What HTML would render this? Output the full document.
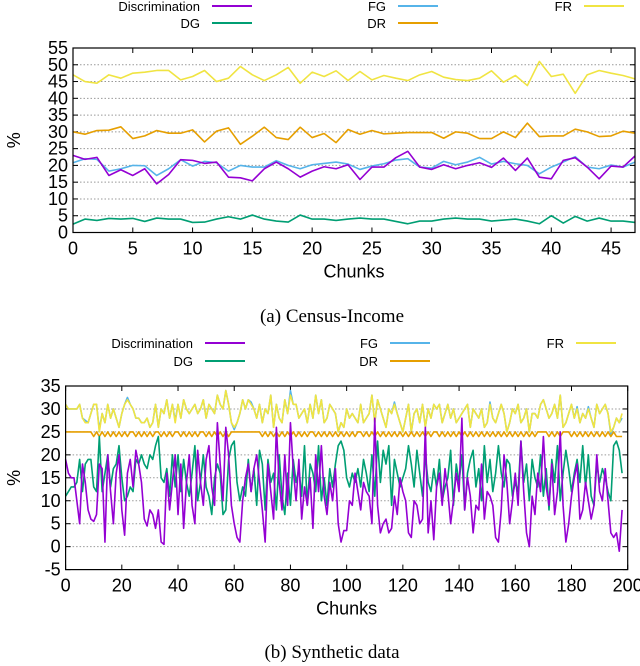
<!DOCTYPE html>
<html><head><meta charset="utf-8"><style>
body{margin:0;background:#fff;}
svg{display:block;font-family:"Liberation Sans",sans-serif;}
</style></head><body>
<svg id="svg" width="640" height="666" xmlns="http://www.w3.org/2000/svg"></svg>
<script>
// ---- Chart A (Census-Income) data ----
const aChunks = 48;
const aDisc = [23,21.8,22.4,17,18.7,17,19,14.5,17.3,21.7,21.5,20.6,21,16.5,16.3,15.4,19,21,19,16.5,18.3,19.6,19,20.2,15.8,19.5,19.5,22.3,24.2,19.5,18.8,20.2,19,20,20.8,19.4,22.2,18.5,22.2,16.5,16,21.5,22.3,19.5,16,19.8,19.5,22.8];
const aDG = [2.5,4,3.6,4.2,4,4.2,3.3,4.3,4,4,3,3.1,4,4.7,4,5.2,4,3.4,3.1,5.2,4,4,3.6,4,4.3,4,4,3.3,2.6,3.4,3.4,4,4.3,4,4,3.4,3.7,4,3.4,2.6,5,2.8,4.8,3.4,4.3,3.4,3.4,3];
const aFG = [20.8,22,21.8,18.3,19,20,19.9,17,19,21.7,19.8,21.2,20.8,18.3,20,19.5,19.5,21.4,20,19,20.2,20.6,21,20.4,18.8,19.8,20.5,21.6,22,19.5,19.2,21.2,20.2,21,22.4,20.4,21.2,20.5,20,17.5,19.5,21,22.6,19.5,19,20.1,19.5,21];
const aDR = [30,29.3,30.4,30.5,31.5,28,28.8,30.4,29.6,29.6,30.6,27,30.2,31.2,26.3,28.7,31.4,28.3,27.7,31.4,28.3,29.5,26.8,30.7,29.3,30.4,29.4,29.6,29.8,29.8,29.8,28.1,30,29.6,28,28,30,28.3,32.6,28.6,28.8,28.8,30.8,30,28.6,28.8,30.2,29.6];
const aFR = [47,45,44.5,47,46,47.5,47.8,48.3,48.3,45.5,46.5,48.3,45,46,49.5,47,45.3,47,49.2,44.5,47.8,46.5,48.2,45.3,48,45.5,46.8,46,45.3,47,48,46.3,45.6,45.3,46,48.2,44.8,46.8,43.8,51,46.5,47.2,41.5,47,48.3,47.5,46.8,45.8];
const aYTicks = [0,5,10,15,20,25,30,35,40,45,50,55];
const aXTicks = [0,5,10,15,20,25,30,35,40,45];

// ---- Chart B (Synthetic) data ----
const bDisc = [19,16,15,15,10,5,18,14,8,6,5.5,7,18,17,1,20,12,5,16,20,
8,2.5,16,19,13,21,18,14,6,4.5,8,7,4,8,1,0.5,16,8,14,20,
7,18,4,14,20,9,5,21,14,9,19,22,13,9,27,18,10,26,20,9,
5,2,1,10,15,18,12,17,20,14,8,1,18,12,6,26,14,8,20,9,
27,17,10,19,6,13,9,15,4,20,12,22,11,7,14,10,17,5,1,3.5,
3.5,10,9,16,12,8,14,12,11,5,28,9,3,5,6,3,4,11,7,15,
12,10,3,2,10,9,5,6,26,3,10,1.5,13,16,9,17,12,5,10,16,
12,28,8,15,11,3,9,8,18,6,12,11,9,2,1,8,20,14,5,10,
16,9,23,12,3,0,11,7,16,12,24,13,9,18,7,12,25,9,1,5,
11,15,18,6,8,14,10,6,9,20,12,10,17,10,3,2,3,-1,8];
const bDG = [11,12,13,13,14,19,12,18,19,19,13,12,24,12,16,20,13,17,18,22,
15,10,11,13,12,19,18,20,18,17,20,19,22,24,15,14,17,11,20,13,
20,12,19,14,11,16,22,10,14,20,13,11,7,15,18,16,7,8,19,22,
23,14,10,13,11,19,12,17,9,21,18,8,19,14,16,8,20,11,7,16,
9,19,14,17,11,22,9,18,16,12,22,10,15,9,17,13,18,22,23,21,
15,13,16,14,17,13,19,16,12,20,11,23,14,21,18,22,9,19,16,13,
15,17,22,18,13,21,16,11,20,14,12,17,13,19,10,13,15,21,9,18,
14,20,8,16,19,21,13,17,10,22,14,19,12,16,22,16,13,19,18,11,
14,12,23,14,18,10,19,15,13,20,11,17,8,19,14,22,10,16,21,17,
12,16,19,14,22,13,20,11,9,18,14,17,15,12,10,22,23,21,16];
const bFR = [31,30,30,30,30,31,28,27,27,29,31,31,25,29,27,31,28,30,28,26,
29,31,32,31,30,28,28,27,27,28,26,27,31,26,30,29,32,28,31,27,
31,28,32,30,29,30,31,29,30,32,28,31,30,29,33,31,30,34,31,27,
26,27,29,32,30,32,31,30,28,31,27,30,29,33,26,31,28,27,32,29,
33,31,31,28,29,30,27,31,28,33,29,32,27,28,31,30,29,25,27,26,
30,28,29,28,27,31,27,28,29,33,27,32,30,28,26,30,29,31,29,27,
25,28,31,25,29,30,27,31,26,30,28,31,30,31,27,29,31,28,30,27,
28,29,30,31,26,30,29,28,30,26,27,31,28,27,29,31,29,25,27,30,
29,31,27,28,30,25,29,29,28,31,32,30,28,29,31,28,33,26,27,29,
31,28,30,27,29,28,30,28,26,31,29,30,31,29,25,26,28,27,29];
const bFG = [31,30,30,30,30,31,28,27.5,27,29,31,31,25.5,29,27,31,28,30,28,26,
29,31,32.5,31,30,28,28,27,27,28,26,27,31,26,30,29,32,28,31,27.5,
31,28,32,30,29,30,31,29,30,32,28,31,30,29,33,31,30,34,31,27,
25.5,27,29,32,30,32,31.5,30,28,31,27,30,29,33,26,31,28,27,32,29,
34,31,31,28,29,30,27,31,28,33,29,32,27,28,31,30,29,25,27,26,
30,28,29,28,27,31,27,28,29,33,27,32,30,28,26,30,29,31.5,29,27,
25,28,31,25,29,30,27,31,26,30,28,31,30,31,27,29,31,28,30,27,
28,29,30,31,26,30,29,28,30,26,27,31.5,28,27,29,31,29,25,27,30,
29,31,27,28,30,25,29,29,28,31,32,30,28,29,31,28,33,26,27,29,
31,28,30.5,27,29,28,30.5,28,26,31,29,30,31,29,24.5,26,28,27,28];
const bDR = [25,25,25,25,25,25,25,25,25,25,24,25,24,25,24,25,24,25,24,25,
24,25,24,25,25,24,25,24,25,24,25,24,25,25,24,25,24,25,24,25,
25,24,25,24,25,24,25,24,25,25,24,25,24,25,24,25,24,25,24,25,
25,25,25,25,25,25,25,25,25,25,24,25,24,25,24,25,24,25,24,25,
24,25,24,25,24,25,24,25,25,24,25,24,25,24,25,24,25,24,25,24,
25,24,25,24,25,25,24,25,24,25,24,25,24,25,24,25,24,25,24,25,
24,25,24,25,24,25,24,25,24,25,24,25,25,24,25,24,25,24,25,24,
25,24,25,24,25,24,25,24,25,24,25,24,25,24,25,24,25,24,25,24,
25,24,25,24,25,24,25,24,25,25,25,25,24,25,24,25,24,25,25,25,
24,25,24,25,24,25,24,25,24,25,24,25,24,25,24,25,24,24,24];
const bYTicks = [-5,0,5,10,15,20,25,30,35];
const bXTicks = [0,20,40,60,80,100,120,140,160,180,200];

const NS = "http://www.w3.org/2000/svg";
const svg = document.getElementById('svg');
const COLORS = {disc:'#9400d3', dg:'#009e73', fg:'#56b4e9', dr:'#e69f00', fr:'#f0e442'};
function mk(tag, attrs, parent){const e=document.createElementNS(NS,tag);for(const k in attrs)e.setAttribute(k,attrs[k]);(parent||svg).appendChild(e);return e;}

function chart(cfg){
  const g = mk('g',{});
  
  
  const X = v => cfg.x0 + (v - cfg.xmin)/(cfg.xmax - cfg.xmin)*(cfg.x1 - cfg.x0);
  const Y = v => cfg.y0 - (v - cfg.ymin)/(cfg.ymax - cfg.ymin)*(cfg.y0 - cfg.y1);
  // grid
  cfg.yTicks.forEach(t=>{
    const y=Y(t);
    if(t>cfg.ymin && t<cfg.ymax){
      const l=mk('line',{x1:cfg.x0,x2:cfg.x1,y1:y,y2:y,stroke:'#999','stroke-width':1,'stroke-dasharray':'1.5,2'},g);
      
      
    }
    const tx=mk('text',{x:cfg.x0-5,y:y+6,'text-anchor':'end','font-size':cfg.fs,fill:'#000'},g);
    tx.textContent=t;
    
    
    mk('line',{x1:cfg.x0,x2:cfg.x0+5,y1:y,y2:y,stroke:'#000'},g);
    mk('line',{x1:cfg.x1,x2:cfg.x1-5,y1:y,y2:y,stroke:'#000'},g);
  });
  cfg.xTicks.forEach(t=>{
    const x=X(t);
    const tx=mk('text',{x:x,y:cfg.y0+22,'text-anchor':'middle','font-size':cfg.fs,fill:'#000'},g);
    tx.textContent=t;
    
    
    mk('line',{x1:x,x2:x,y1:cfg.y0,y2:cfg.y0-5,stroke:'#000'},g);
    mk('line',{x1:x,x2:x,y1:cfg.y1,y2:cfg.y1+5,stroke:'#000'},g);
  });
  // series
  cfg.series.forEach(s=>{
    const pts=s.data.map((v,i)=>X(i).toFixed(2)+','+Y(v).toFixed(2)).join(' ');
    const p=mk('polyline',{points:pts,fill:'none',stroke:COLORS[s.key],'stroke-width':1.6,'stroke-linejoin':'round'},g);
    
    
  });
  const box=mk('rect',{x:cfg.x0,y:cfg.y1,width:cfg.x1-cfg.x0,height:cfg.y0-cfg.y1,fill:'none',stroke:'#000','stroke-width':1.2},g);
  
  
  // axis titles
  const xt=mk('text',{x:(cfg.x0+cfg.x1)/2,y:cfg.y0+45,'text-anchor':'middle','font-size':18,fill:'#000'},g);
  xt.textContent='Chunks';
  
  
  const yc=(cfg.y0+cfg.y1)/2;
  const yt=mk('text',{x:20,y:yc,'text-anchor':'middle','font-size':18,fill:'#000',transform:'rotate(-90 20 '+yc+')'},g);
  yt.textContent='%';
  
  
  // legend
  cfg.legend.forEach(e=>{
    const t=mk('text',{x:e.tx,y:e.y+5,'text-anchor':'end','font-size':13,fill:'#000'},g);
    t.textContent=e.label;
    
    
    mk('line',{x1:e.tx+12,x2:e.tx+52,y1:e.y,y2:e.y,stroke:COLORS[e.key],'stroke-width':2},g);
  });
  // caption
  const c=mk('text',{x:332,y:cfg.capY,'text-anchor':'middle','font-size':19,fill:'#000','font-family':'Liberation Serif, serif'},g);
  c.textContent=cfg.caption;
  
  
}

chart({name:'census-income-chart',x0:73,x1:635,y0:232.5,y1:48,xmin:0,xmax:47,ymin:0,ymax:55,fs:18,
  yTicks:aYTicks,xTicks:aXTicks,capY:322,caption:'(a) Census-Income',
  series:[{key:'fr',data:aFR},{key:'dr',data:aDR},{key:'fg',data:aFG},{key:'disc',data:aDisc},{key:'dg',data:aDG}],
  legend:[{label:'Discrimination',key:'disc',tx:200,y:6},{label:'FG',key:'fg',tx:386,y:6},{label:'FR',key:'fr',tx:572,y:6},
          {label:'DG',key:'dg',tx:200,y:23},{label:'DR',key:'dr',tx:386,y:23}]});

chart({name:'synthetic-data-chart',x0:65.6,x1:627.7,y0:569.6,y1:386,xmin:0,xmax:200,ymin:-5,ymax:35,fs:18,
  yTicks:bYTicks,xTicks:bXTicks,capY:658,caption:'(b) Synthetic data',
  series:[{key:'fg',data:bFG},{key:'fr',data:bFR},{key:'dr',data:bDR},{key:'dg',data:bDG},{key:'disc',data:bDisc}],
  legend:[{label:'Discrimination',key:'disc',tx:193,y:343},{label:'FG',key:'fg',tx:378,y:343},{label:'FR',key:'fr',tx:564,y:343},
          {label:'DG',key:'dg',tx:193,y:361},{label:'DR',key:'dr',tx:378,y:361}]});
</script>
</body></html>
